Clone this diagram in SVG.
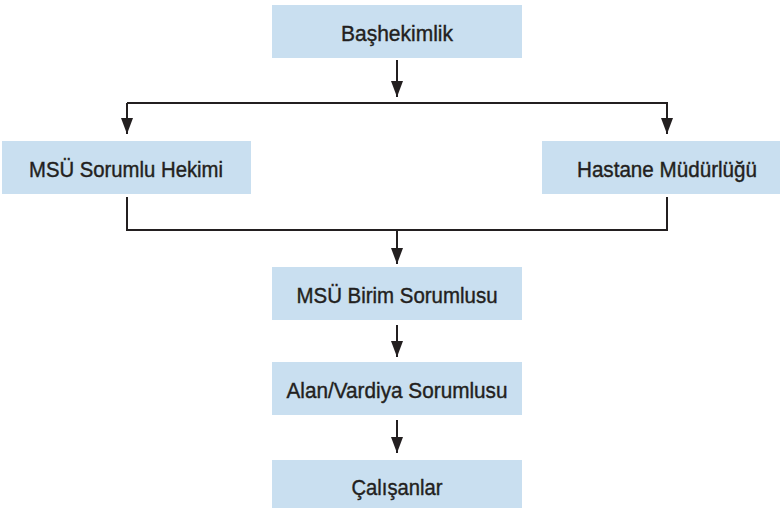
<svg xmlns="http://www.w3.org/2000/svg" width="780" height="508" viewBox="0 0 780 508">
<style>
.box{fill:#c9dff0}
.lbl{font-family:"Liberation Sans",Arial,sans-serif;font-size:22px;fill:#231f20;stroke:#231f20;stroke-width:0.4;text-anchor:middle}
.ln{fill:none;stroke:#231f20;stroke-width:2}
</style>
<defs>
<marker id="ah" viewBox="0 0 16 12" refX="16" refY="6" markerWidth="16" markerHeight="12" markerUnits="userSpaceOnUse" orient="auto">
<path d="M0,0 L16,6 L0,12 Z" fill="#231f20"/>
</marker>
</defs>
<rect width="780" height="508" fill="#ffffff"/>
<g id="connectors">
<line class="ln" x1="397" y1="60" x2="397" y2="97" marker-end="url(#ah)"/>
<path class="ln" d="M127,103 L667,103 L667,134" marker-end="url(#ah)"/>
<path class="ln" d="M127,103 L127,134" marker-end="url(#ah)"/>
<path class="ln" d="M127,197 L127,230 L667,230 L667,197"/>
<line class="ln" x1="397" y1="230" x2="397" y2="264" marker-end="url(#ah)"/>
<line class="ln" x1="397" y1="325" x2="397" y2="357" marker-end="url(#ah)"/>
<line class="ln" x1="397" y1="420" x2="397" y2="453" marker-end="url(#ah)"/>
</g>
<g id="n-bashekimlik">
<rect class="box" x="272" y="5" width="250" height="53"/>
<text class="lbl" x="397" y="40.5" textLength="112" lengthAdjust="spacingAndGlyphs">Başhekimlik</text>
</g>
<g id="n-msu-sorumlu-hekimi">
<rect class="box" x="2" y="141" width="249" height="53"/>
<text class="lbl" x="126" y="176.5" textLength="194" lengthAdjust="spacingAndGlyphs">MSÜ Sorumlu Hekimi</text>
</g>
<g id="n-hastane-mudurlugu">
<rect class="box" x="542" y="141" width="238" height="53"/>
<text class="lbl" x="667" y="176.5" textLength="180" lengthAdjust="spacingAndGlyphs">Hastane Müdürlüğü</text>
</g>
<g id="n-msu-birim-sorumlusu">
<rect class="box" x="272" y="267" width="250" height="53"/>
<text class="lbl" x="397" y="302.5" textLength="201" lengthAdjust="spacingAndGlyphs">MSÜ Birim Sorumlusu</text>
</g>
<g id="n-alan-vardiya-sorumlusu">
<rect class="box" x="272" y="362" width="250" height="53"/>
<text class="lbl" x="397" y="397.5" textLength="221" lengthAdjust="spacingAndGlyphs">Alan/Vardiya Sorumlusu</text>
</g>
<g id="n-calisanlar">
<rect class="box" x="272" y="460" width="250" height="53"/>
<text class="lbl" x="397" y="494.5" textLength="91" lengthAdjust="spacingAndGlyphs">Çalışanlar</text>
</g>
</svg>
